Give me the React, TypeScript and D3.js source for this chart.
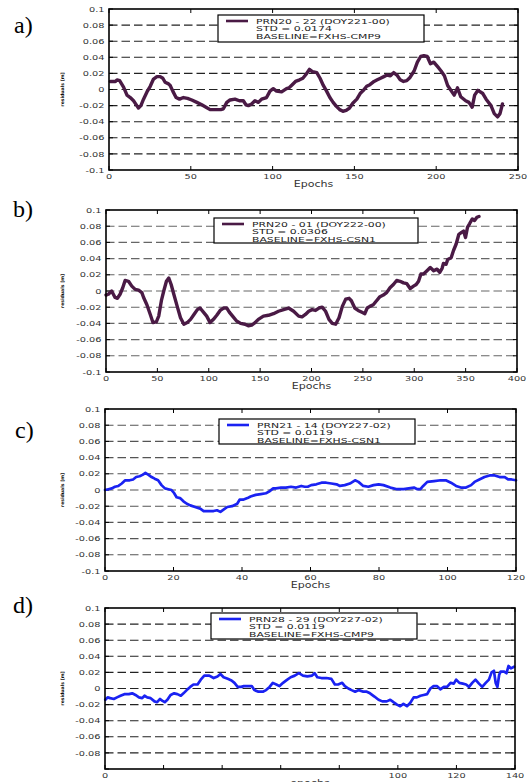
import * as d3 from 'd3';

// ── Data ────────────────────────────────────────────────────────────────────
const yTicks = [-0.1, -0.08, -0.06, -0.04, -0.02, 0, 0.02, 0.04, 0.06, 0.08, 0.1];
const yTickLabels = ['-0.1', '-0.08', '-0.06', '-0.04', '-0.02', '0', '0.02', '0.04', '0.06', '0.08', '0.1'];
const yTickLabelsD = ['', '-0.08', '-0.06', '-0.04', '-0.02', '0', '0.02', '0.04', '0.06', '0.08', '0.1'];

const xTicksA = [0, 50, 100, 150, 200, 250];
const xTicksB = [0, 50, 100, 150, 200, 250, 300, 350, 400];
const xTicksC = [0, 20, 40, 60, 80, 100, 120];
const xTicksD = [0, 20, 40, 60, 80, 100, 120, 140];
const xTickLabelsA = ['0', '50', '100', '150', '200', '250'];
const xTickLabelsB = ['0', '50', '100', '150', '200', '250', '300', '350', '400'];
const xTickLabelsC = ['0', '20', '40', '60', '80', '100', '120'];
const xTickLabelsD = ['0', '', '', '', '', '100', '120', '140'];

const legendA = ['PRN20 - 22 (DOY221-00)', 'STD = 0.0174', 'BASELINE=FXHS-CMP9'];
const legendB = ['PRN20 - 01 (DOY222-00)', 'STD = 0.0306', 'BASELINE=FXHS-CSN1'];
const legendC = ['PRN21 - 14 (DOY227-02)', 'STD = 0.0119', 'BASELINE=FXHS-CSN1'];
const legendD = ['PRN28 - 29 (DOY227-02)', 'STD = 0.0119', 'BASELINE=FXHS-CMP9'];

// [epoch, residual (m)]
const residualsA: [number, number][] = [
  [0.8, 0.01], [3.9, 0.01], [4.9, 0.012], [6.5, 0.011], [8.9, 0.003], [11, -0.007], [13, -0.01], [15, -0.014],
  [17, -0.02], [18, -0.023], [19.5, -0.02], [21.1, -0.012], [23.2, -0.003], [25.2, 0.004], [27.2, 0.013],
  [29.3, 0.016], [31.3, 0.016], [32.9, 0.014], [34.3, 0.009], [36.4, 0.007], [37.4, 0.005], [39, -0.002],
  [41, -0.01], [43.1, -0.012], [45.5, -0.01], [48, -0.011], [50.6, -0.013], [53.7, -0.016], [56.7, -0.019],
  [59.3, -0.022], [61.8, -0.025], [65.4, -0.025], [68.3, -0.025], [69.9, -0.024], [72, -0.016], [74, -0.013],
  [77, -0.012], [79.7, -0.014], [82.1, -0.014], [83.7, -0.019], [85.2, -0.02], [87.2, -0.018], [89.2, -0.014],
  [91.3, -0.016], [93.3, -0.012], [96.3, -0.01], [98.4, -0.002], [100.4, 0.001], [102.4, -0.002], [105.5, -0.003],
  [108.5, 0.001], [110, 0.002], [112, 0.006], [114, 0.01], [116.5, 0.012], [118.5, 0.014], [120.5, 0.019],
  [122.5, 0.025], [124.5, 0.022], [127, 0.021], [129, 0.014], [131, 0.005], [133, -0.002], [135, -0.01],
  [137, -0.016], [139, -0.021], [141, -0.025], [143, -0.027], [145, -0.026], [147, -0.023], [149, -0.017],
  [151.5, -0.012], [153.5, -0.005], [155.5, -0.001], [157.5, 0.004], [159.5, 0.006], [162, 0.01], [164, 0.012],
  [166, 0.014], [168, 0.016], [170, 0.018], [172, 0.017], [174, 0.021], [176, 0.018], [178, 0.012], [180, 0.01],
  [182, 0.011], [184, 0.015], [186.5, 0.023], [188.5, 0.034], [190.5, 0.041], [192.5, 0.042], [194.5, 0.041],
  [196.5, 0.032], [198.5, 0.034], [201, 0.028], [203, 0.023], [205, 0.017], [207, 0.005], [211, -0.007],
  [213, 0.002], [215, -0.009], [218, -0.014], [220, -0.016], [222, -0.022], [223.5, -0.007], [225.5, -0.001],
  [228.5, -0.005], [230.5, -0.012], [233.5, -0.02], [235.5, -0.03], [237.5, -0.034], [239, -0.03], [240.5, -0.018]
];

const residualsB: [number, number][] = [
  [0, -0.005], [2.3, -0.004], [5.5, 0], [8.8, -0.008], [11.1, -0.009], [13.7, -0.004], [16.3, 0.004], [18.6, 0.013],
  [21.9, 0.012], [25.1, 0.006], [28.4, 0.002], [31.7, 0.001], [34.9, -0.002], [36.6, -0.008], [39.8, -0.017],
  [43.1, -0.029], [45.7, -0.039], [49, -0.038], [51.3, -0.031], [53.9, -0.012], [56.2, 0], [58.8, 0.012],
  [61.1, 0.016], [63.4, 0.008], [66, -0.004], [69.3, -0.019], [72.5, -0.033], [75.8, -0.041], [79.1, -0.039],
  [82.3, -0.035], [85.6, -0.029], [88.9, -0.023], [91.5, -0.021], [94.8, -0.026], [98, -0.031], [101.3, -0.039],
  [104.6, -0.035], [107.8, -0.03], [111.1, -0.024], [114.4, -0.021], [117.6, -0.021], [120, -0.026],
  [123.2, -0.031], [127.1, -0.037], [131, -0.04], [135.3, -0.041], [138.5, -0.043], [141.8, -0.042],
  [145.1, -0.039], [148.3, -0.035], [153.2, -0.031], [158.1, -0.03], [163, -0.028], [167.9, -0.025],
  [172.8, -0.023], [177.7, -0.021], [182.6, -0.025], [187.5, -0.031], [190.8, -0.032], [194.1, -0.029],
  [197.3, -0.025], [200.6, -0.023], [203.9, -0.024], [207.2, -0.021], [210.4, -0.02], [213.7, -0.025],
  [217, -0.035], [220.2, -0.04], [223.5, -0.041], [226.8, -0.033], [230, -0.019], [233.3, -0.01], [236.6, -0.009],
  [238.8, -0.012], [242.1, -0.021], [245.4, -0.024], [248.6, -0.026], [251.9, -0.028], [254.2, -0.021],
  [256.8, -0.019], [260.1, -0.017], [263.3, -0.012], [266.6, -0.007], [269.9, -0.005], [273.1, -0.002],
  [276.4, 0.004], [279.7, 0.008], [282.9, 0.013], [286.2, 0.012], [289.5, 0.01], [292.8, 0.009], [296, 0.003],
  [299.3, 0.006], [301.9, 0.008], [304.2, 0.012], [306.5, 0.021], [309.1, 0.021], [312.4, 0.025], [315.6, 0.029],
  [318.9, 0.025], [322.2, 0.027], [324.8, 0.023], [327.1, 0.028], [328.4, 0.034], [331, 0.033], [332.6, 0.039],
  [335.9, 0.041], [338.2, 0.05], [340.8, 0.058], [343.4, 0.07], [345.7, 0.072], [348, 0.074], [349.9, 0.066],
  [351.9, 0.079], [353.8, 0.083], [356.5, 0.089], [358.7, 0.087], [361, 0.091], [363, 0.092]
];

const residualsC: [number, number][] = [
  [0, 0], [1, 0.001], [2, 0.002], [2.9, 0.004], [3.9, 0.005], [4.9, 0.008], [5.9, 0.012], [7.2, 0.012], [8.2, 0.013],
  [9.1, 0.016], [10.1, 0.017], [11.1, 0.019], [11.8, 0.021], [12.6, 0.019], [13.6, 0.016], [14.5, 0.014],
  [15.5, 0.012], [16.5, 0.006], [17.5, 0.002], [18.5, 0.001], [19.4, 0], [20.2, -0.004], [20.9, -0.009],
  [21.9, -0.01], [22.9, -0.014], [23.9, -0.017], [24.9, -0.019], [26.3, -0.021], [27.8, -0.023], [28.8, -0.026],
  [30.3, -0.026], [31.7, -0.026], [32.7, -0.025], [33.7, -0.027], [34.7, -0.024], [35.7, -0.021], [37.1, -0.02],
  [38.6, -0.017], [39.3, -0.012], [40.3, -0.012], [41.6, -0.01], [42.5, -0.008], [44, -0.006], [45.5, -0.005],
  [47, -0.004], [47.9, -0.002], [49.1, 0.002], [49.9, 0.002], [51.4, 0.003], [52.8, 0.003], [54.3, 0.004],
  [55.8, 0.003], [57.3, 0.005], [58.3, 0.004], [59.2, 0.004], [60.2, 0.006], [61.7, 0.007], [63.2, 0.009],
  [64.6, 0.009], [66.1, 0.008], [67.6, 0.007], [68.6, 0.005], [70, 0.006], [71.5, 0.008], [73, 0.012], [74, 0.01],
  [75.4, 0.005], [76.9, 0.004], [78.4, 0.006], [79.9, 0.007], [81.3, 0.006], [83.3, 0.003], [85.3, 0.001],
  [87.2, 0.001], [88.7, 0.002], [90.2, 0.003], [91.2, 0.001], [92.1, 0.001], [92.9, 0.005], [94.1, 0.01],
  [96.1, 0.011], [98, 0.012], [99.5, 0.012], [101, 0.009], [102.5, 0.005], [103.9, 0.003], [105.4, 0.003],
  [106.9, 0.006], [107.9, 0.01], [109.3, 0.013], [110.8, 0.016], [112.3, 0.018], [113.8, 0.018], [115.2, 0.016],
  [116.7, 0.016], [117.7, 0.013], [118.7, 0.013], [120, 0.012]
];

const residualsD: [number, number][] = [
  [0.1, -0.014], [0.9, -0.011], [1.8, -0.012], [3, -0.013], [4.1, -0.011], [5.3, -0.009], [6.6, -0.007],
  [8.1, -0.007], [9.3, -0.006], [10.4, -0.008], [11.6, -0.011], [12.7, -0.012], [13.5, -0.009], [14.4, -0.011],
  [15.6, -0.012], [16.9, -0.016], [17.8, -0.017], [18.8, -0.013], [19.5, -0.015], [20.4, -0.017], [21.3, -0.014],
  [22.4, -0.008], [23.6, -0.006], [24.7, -0.007], [25.9, -0.009], [26.8, -0.006], [27.9, -0.002], [29.1, 0.002],
  [30.2, 0.005], [31.6, 0.005], [32.7, 0.011], [33.9, 0.016], [35.6, 0.016], [37.1, 0.013], [38.4, 0.015],
  [39.4, 0.018], [40.5, 0.014], [41.9, 0.012], [43.2, 0.01], [44.2, 0.007], [45.3, 0.002], [46.5, 0.002],
  [47.4, 0.003], [48.7, 0.003], [50.1, 0.003], [51, -0.002], [52.4, -0.004], [53.9, -0.004], [55, -0.002],
  [56.2, 0.002], [57.3, 0.007], [58.5, 0.005], [59.6, 0.003], [60.8, 0.007], [61.9, 0.01], [63.4, 0.014],
  [64.8, 0.016], [66.2, 0.019], [67.6, 0.016], [69.1, 0.015], [70.7, 0.016], [71.6, 0.019], [72.5, 0.014],
  [73.9, 0.013], [75.6, 0.013], [77.3, 0.012], [78.5, 0.005], [79.6, 0.005], [81, 0.007], [81.9, 0.003],
  [83.1, 0], [84.2, -0.002], [85.4, -0.004], [86.7, -0.002], [88.2, -0.004], [89.4, -0.004], [90.5, -0.006],
  [92, -0.01], [93.4, -0.014], [94.7, -0.016], [96.2, -0.016], [97.4, -0.014], [98.5, -0.017], [99.7, -0.02],
  [100.8, -0.022], [101.9, -0.019], [103.1, -0.022], [104.2, -0.018], [105.4, -0.011], [106.5, -0.011],
  [107.7, -0.009], [108.8, -0.008], [110, -0.007], [111.1, 0], [112.2, 0.003], [113.4, 0.003], [114.5, -0.001],
  [115.7, 0.002], [116.8, 0.002], [118, 0.007], [119.1, 0.006], [119.9, 0.011], [121, 0.007], [122.2, 0.006],
  [123.3, 0.005], [124.3, 0.002], [125.4, 0.007], [126.5, 0.011], [127.7, 0.006], [128.8, 0.002], [130, 0.007],
  [131.1, 0.011], [132, 0.02], [132.8, 0.022], [133.4, 0.007], [134, 0.002], [134.6, 0.017], [135.1, 0.021],
  [136.3, 0.021], [137.1, 0.019], [137.8, 0.028], [138.6, 0.025], [139.7, 0.027]
];

// ── Layout ──────────────────────────────────────────────────────────────────
const purple = '#4a1a45';
const blue = '#1a22f2';
const FONT = 'DejaVu Sans';

const panels = [
  {
    tag: 'a)', tagX: 14, tagY: 33, data: residualsA, xMax: 250, xTicks: xTicksA, xLabels: xTickLabelsA,
    yLabels: yTickLabels, legend: legendA, color: purple, grid: '#222', xTitle: 'Epochs',
    frame: { left: 109, right: 518, top: 9, bottom: 170 }, box: { x0: 218, y0: 15, x1: 424, y1: 42 }
  },
  {
    tag: 'b)', tagX: 13, tagY: 217, data: residualsB, xMax: 400, xTicks: xTicksB, xLabels: xTickLabelsB,
    yLabels: yTickLabels, legend: legendB, color: purple, grid: '#666', xTitle: 'Epochs',
    frame: { left: 106, right: 517, top: 210, bottom: 372 }, box: { x0: 214, y0: 218, x1: 418, y1: 243 }
  },
  {
    tag: 'c)', tagX: 15, tagY: 438, data: residualsC, xMax: 120, xTicks: xTicksC, xLabels: xTickLabelsC,
    yLabels: yTickLabels, legend: legendC, color: blue, grid: '#555', xTitle: 'Epochs',
    frame: { left: 105, right: 516, top: 409, bottom: 571 }, box: { x0: 219, y0: 419, x1: 415, y1: 444 }
  },
  {
    tag: 'd)', tagX: 13, tagY: 613, data: residualsD, xMax: 140, xTicks: xTicksD, xLabels: xTickLabelsD,
    yLabels: yTickLabelsD, legend: legendD, color: blue, grid: '#222', xTitle: 'epochs',
    frame: { left: 105, right: 515, top: 608, bottom: 769 }, box: { x0: 211, y0: 613, x1: 417, y1: 639 }
  }
];

// stretched sans text, the scan has wide, flat glyphs
const SText = ({ x, y, size, anchor = 'start', fill = '#222', sx = 1.3, weight = 'normal', children }: any) => (
  <text
    transform={`translate(${x},${y}) scale(${sx},1)`}
    fontFamily={FONT}
    fontSize={size}
    fontWeight={weight}
    textAnchor={anchor}
    fill={fill}
  >
    {children}
  </text>
);

const Panel = ({ p }: any) => {
  const { left, right, top, bottom } = p.frame;
  const x = d3.scaleLinear().domain([0, p.xMax]).range([left, right]);
  const y = d3.scaleLinear().domain([-0.1, 0.1]).range([bottom, top]);
  const line = d3
    .line<[number, number]>()
    .x(d => x(d[0]))
    .y(d => y(d[1]));
  const tick = 4;
  const box = p.box;

  return (
    <g>
      {/* grid */}
      {yTicks.slice(1, -1).map(t => (
        <line key={`g${t}`} x1={left} x2={right} y1={y(t)} y2={y(t)} stroke={p.grid} strokeWidth={1.1} strokeDasharray="8.5 4" />
      ))}

      {/* ticks on all sides */}
      {yTicks.map(t => (
        <g key={`yt${t}`} stroke="#000" strokeWidth={1}>
          <line x1={left} x2={left + tick} y1={y(t)} y2={y(t)} />
          <line x1={right} x2={right - tick} y1={y(t)} y2={y(t)} />
        </g>
      ))}
      {p.xTicks.map((t: number) => (
        <g key={`xt${t}`} stroke="#000" strokeWidth={1}>
          <line x1={x(t)} x2={x(t)} y1={bottom} y2={bottom - tick} />
          <line x1={x(t)} x2={x(t)} y1={top} y2={top + tick} />
        </g>
      ))}

      <path d={line(p.data) || ''} fill="none" stroke={p.color} strokeWidth={p.color === purple ? 3.4 : 2.7} strokeLinejoin="round" strokeLinecap="round" />

      <rect x={left} y={top} width={right - left} height={bottom - top} fill="none" stroke="#000" strokeWidth={1.6} />

      {/* tick labels */}
      {yTicks.map((t, i) => (
        <SText key={`yl${t}`} x={left - 4.5} y={y(t) + 2.6} size={7.5} anchor="end" fill="#333">
          {p.yLabels[i]}
        </SText>
      ))}
      {p.xTicks.map((t: number, i: number) => (
        <SText key={`xl${t}`} x={x(t)} y={bottom + 8.5} size={7.5} anchor="middle" fill="#333">
          {p.xLabels[i]}
        </SText>
      ))}

      <SText x={(left + right) / 2} y={bottom + 16.5} size={8.5} anchor="middle" fill="#333">
        {p.xTitle}
      </SText>

      <text
        transform={`translate(64,${(top + bottom) / 2}) rotate(-90)`}
        fontFamily={FONT}
        fontSize={4.6}
        fontWeight="bold"
        textAnchor="middle"
        fill="#111"
      >
        residuals [m]
      </text>

      {/* legend */}
      <rect x={box.x0} y={box.y0} width={box.x1 - box.x0} height={box.y1 - box.y0} fill="#fff" stroke="#000" strokeWidth={1.2} />
      <line x1={box.x0 + 8} x2={box.x0 + 30} y1={box.y0 + 6} y2={box.y0 + 6} stroke={p.color} strokeWidth={2.6} />
      {p.legend.map((s: string, i: number) => (
        <SText key={s} x={box.x0 + 38} y={box.y0 + 8.8 + i * 7.6} size={7} sx={1.55} fill="#222">
          {s}
        </SText>
      ))}

      <text x={p.tagX} y={p.tagY} fontFamily="Liberation Serif" fontSize={24} fill="#000">
        {p.tag}
      </text>
    </g>
  );
};

export default function App() {
  return (
    <div style={{ position: 'absolute', left: 0, top: 0 }}>
      <svg width={527} height={782} style={{ display: 'block', background: '#fff' }}>
        {panels.map(p => (
          <Panel key={p.tag} p={p} />
        ))}
      </svg>
    </div>
  );
}
